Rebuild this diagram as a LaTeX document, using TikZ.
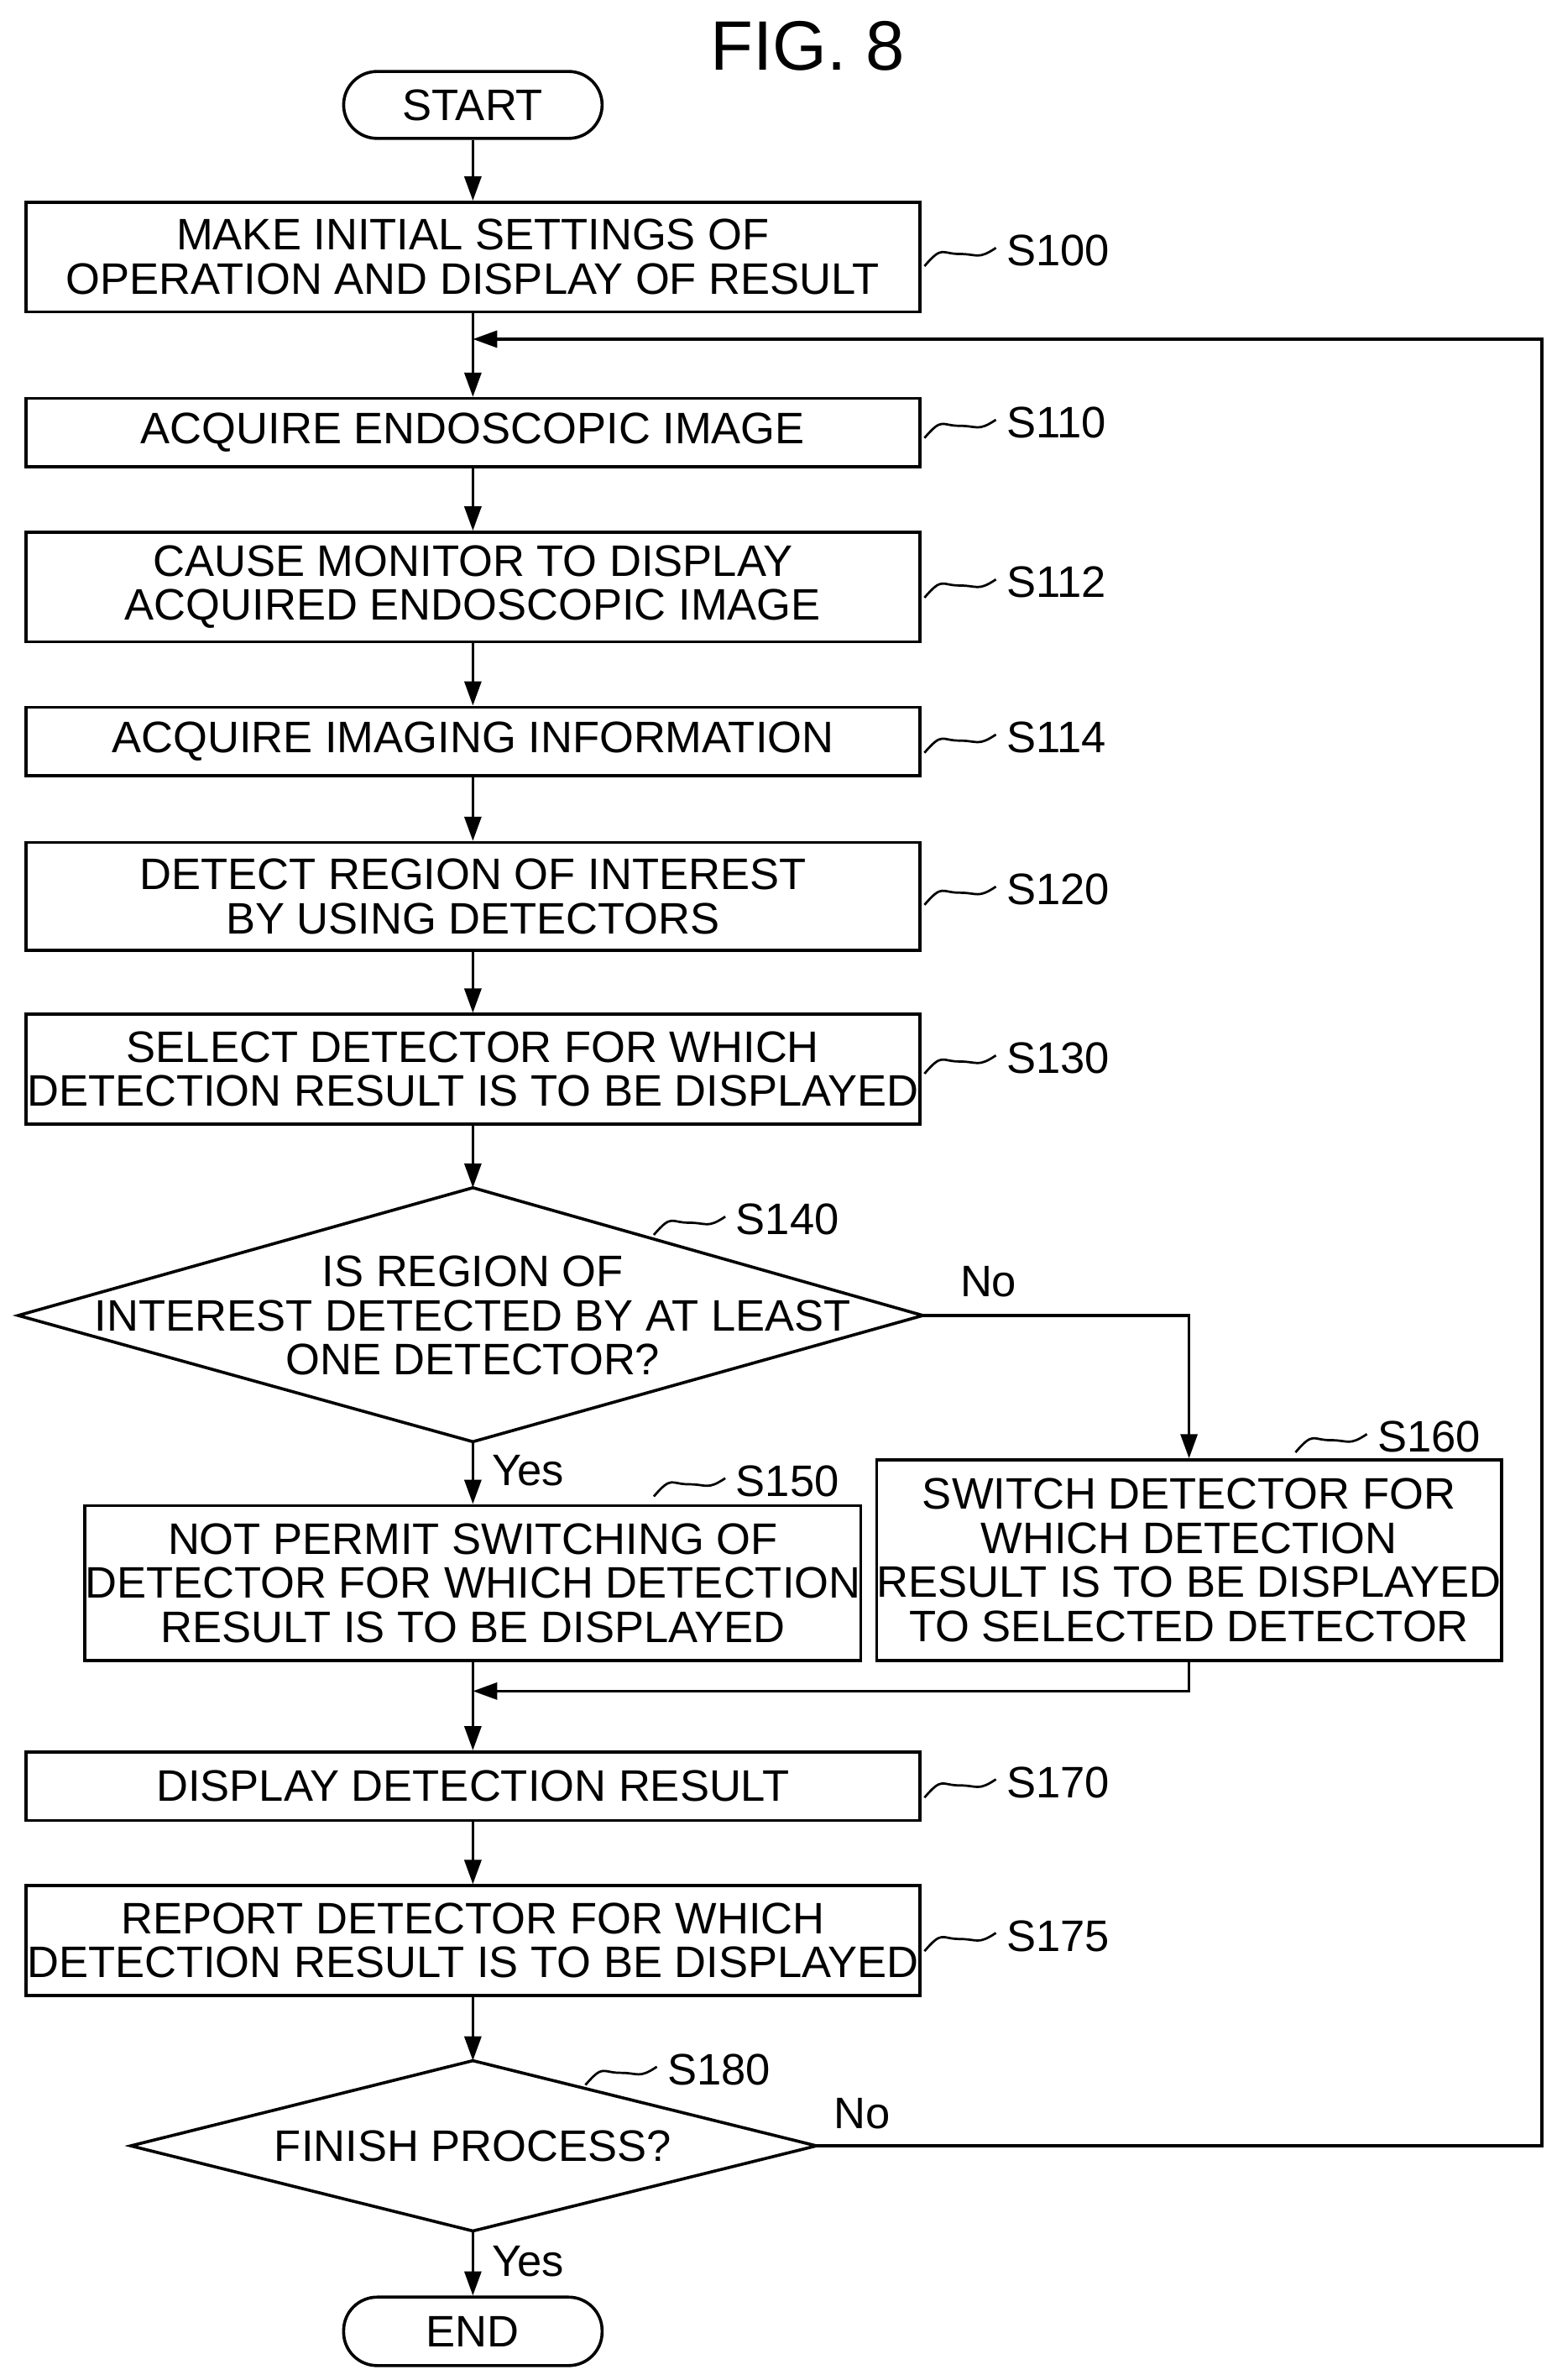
\documentclass[tikz,border=0pt]{standalone}
\usepackage{fontspec}
\setmainfont{Liberation Sans}
\usetikzlibrary{shapes.geometric,arrows.meta}
\begin{document}
\begin{tikzpicture}[x=1pt,y=-1pt,
  every node/.style={font=\fontsize{29}{29}\selectfont},
  box/.style={draw,line width=2pt,inner sep=0pt,align=center},
  lab/.style={font=\fontsize{29}{29}\selectfont,anchor=west},
  ln/.style={line width=2pt},
  arr/.style={line width=2pt,-{Triangle[length=16pt,width=11pt]}}]
\useasboundingbox (0,0) rectangle (1024,1565);
\node at (531,30) {\fontsize{46}{46}\selectfont FIG. 8};
\newcommand{\bx}[6]{\node[box,minimum width=#3-#2,minimum height=#5-#4] (#1) at ({(#2+#3)/2},{(#4+#5)/2}) {#6};}
\newcommand{\squig}[3]{\draw[line width=1.5pt] (#1,#2) .. controls +(12,-14) and +(-12,0) .. +(23,-8) .. controls +(12,0) and +(-12,8) .. +(47,-12) node[lab,anchor=west,xshift=3pt,yshift=-2pt]{#3};}
\node[box,rounded corners=22pt,minimum width=170,minimum height=44] (start) at (311,69) {START};
\bx{s100}{17}{605}{133}{205}{MAKE INITIAL SETTINGS OF\\OPERATION AND DISPLAY OF RESULT}
\bx{s110}{17}{605}{262}{307}{ACQUIRE ENDOSCOPIC IMAGE}
\bx{s112}{17}{605}{350}{422}{CAUSE MONITOR TO DISPLAY\\ACQUIRED ENDOSCOPIC IMAGE}
\bx{s114}{17}{605}{465}{510}{ACQUIRE IMAGING INFORMATION}
\bx{s120}{17}{605}{554}{625}{DETECT REGION OF INTEREST\\BY USING DETECTORS}
\bx{s130}{17}{605}{667}{739}{SELECT DETECTOR FOR WHICH\\DETECTION RESULT IS TO BE DISPLAYED}
\draw[ln] (311,781) coordinate(d1t) -- (607,865) coordinate(d1r) -- (311,948) coordinate(d1b) -- (12,865) -- cycle;
\node[align=center] (s140) at (311,865) {IS REGION OF\\INTEREST DETECTED BY AT LEAST\\ONE DETECTOR?};
\bx{s150}{69}{553}{990}{1092}{NOT PERMIT SWITCHING OF\\DETECTOR FOR WHICH DETECTION\\RESULT IS TO BE DISPLAYED}
\bx{s160}{582}{982}{960}{1092}{SWITCH DETECTOR FOR\\WHICH DETECTION\\RESULT IS TO BE DISPLAYED\\TO SELECTED DETECTOR}
\bx{s170}{17}{605}{1152}{1197}{DISPLAY DETECTION RESULT}
\bx{s175}{17}{605}{1240}{1312}{REPORT DETECTOR FOR WHICH\\DETECTION RESULT IS TO BE DISPLAYED}
\draw[ln] (311,1355) coordinate(d2t) -- (537,1411) coordinate(d2r) -- (311,1467) coordinate(d2b) -- (86,1411) -- cycle;
\node (s180) at (311,1411) {FINISH PROCESS?};
\node[box,rounded corners=22pt,minimum width=170,minimum height=45] (end) at (311,1533) {END};
% arrows
\draw[arr] (start) -- (s100);
\draw[arr] (s100) -- (s110);
\draw[arr] (s110) -- (s112);
\draw[arr] (s112) -- (s114);
\draw[arr] (s114) -- (s120);
\draw[arr] (s120) -- (s130);
\draw[arr] (s130) -- (d1t);
\draw[arr] (d1b) -- (s150);
\draw[arr] (d1r) -| (s160);
\draw[arr] (s150) -- (s170);
\draw[arr] (s160.south) |- (311,1112);
\draw[arr] (s170) -- (s175);
\draw[arr] (s175) -- (d2t);
\draw[arr] (d2b) -- (end);
\draw[arr] (d2r) -- (1014,1411) -- (1014,223) -- (311,223);
\node[lab] at (628,843) {No};
\node[lab] at (320,967) {Yes};
\node[lab] at (545,1390) {No};
\node[lab] at (320,1487) {Yes};
% step labels
\squig{608}{175}{S100}
\squig{608}{288}{S110}
\squig{608}{393}{S112}
\squig{608}{495}{S114}
\squig{608}{595}{S120}
\squig{608}{706}{S130}
\squig{608}{1182}{S170}
\squig{608}{1283}{S175}
\squig{430}{812}{S140}
\squig{430}{984}{S150}
\squig{852}{955}{S160}
\squig{385}{1371}{S180}
\end{tikzpicture}
\end{document}
